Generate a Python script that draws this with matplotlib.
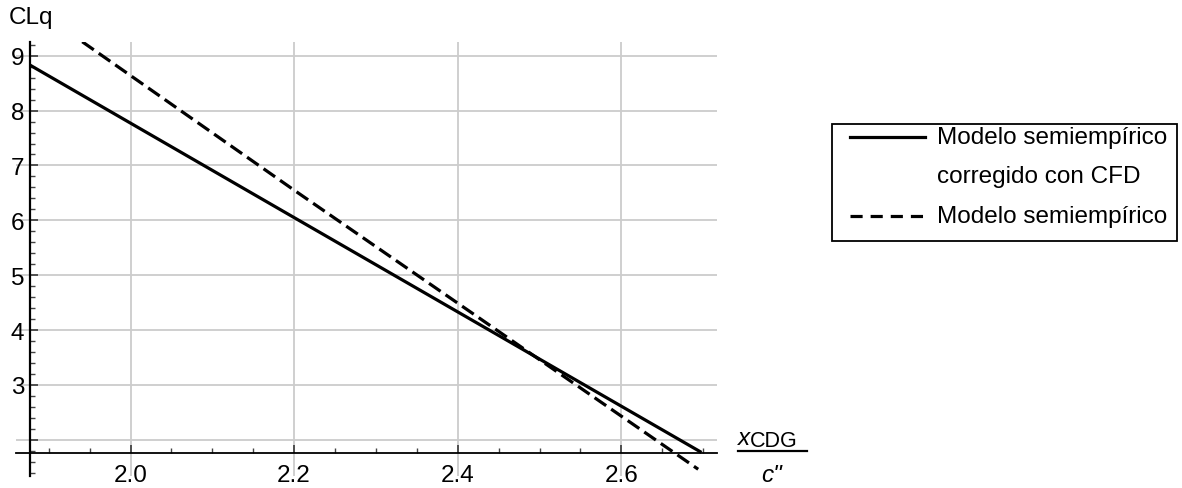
import matplotlib
matplotlib.use("Agg")
import matplotlib.pyplot as plt
from matplotlib.lines import Line2D
from matplotlib.ticker import MultipleLocator

plt.rcParams["font.family"] = ["Liberation Sans", "DejaVu Sans"]

# values
x_corr = [1.877, 2.2, 2.698]
y_corr = [8.83, 6.05, 1.77]
x_semi = [1.941, 2.2, 2.694]
y_semi = [9.255, 6.55, 1.463]

x_ticks = [2.0, 2.2, 2.4, 2.6]
y_ticks = [2, 3, 4, 5, 6, 7, 8, 9]
y_labels = ["", "3", "4", "5", "6", "7", "8", "9"]

W, H = 1182, 489
FS = 17.5
fig = plt.figure(figsize=(W / 100, H / 100), dpi=100)
ax = fig.add_axes([16 / W, 1 - 477 / H, (717 - 16) / W, (477 - 43) / H])
ax.set_xlim(1.86, 2.717)
ax.set_ylim(1.34, 9.25)

for s in ("top", "right"):
    ax.spines[s].set_visible(False)
ax.spines["left"].set_position(("data", 1.877))
ax.spines["bottom"].set_position(("data", 1.754))
ax.spines["left"].set_linewidth(1.6)
ax.spines["bottom"].set_linewidth(1.3)
for s in ("left", "bottom"):
    ax.spines[s].set_zorder(4)

ax.set_xticks(x_ticks)
ax.set_xticklabels([f"{v:.1f}" for v in x_ticks])
ax.set_yticks(y_ticks)
ax.set_yticklabels(y_labels)
ax.xaxis.set_minor_locator(MultipleLocator(0.05))
ax.yaxis.set_minor_locator(MultipleLocator(0.2))
ax.tick_params(which="both", direction="in", labelsize=FS, color="#444444")
ax.tick_params(which="major", length=6, width=1.3)
ax.tick_params(which="minor", length=3.5, width=1.0)
ax.tick_params(axis="x", pad=8)
ax.tick_params(axis="y", pad=4)
ax.grid(True, which="major", color="#cccccc", lw=1.3)
ax.set_axisbelow(True)

ax.plot(x_corr, y_corr, color="black", lw=2.3, solid_capstyle="butt", zorder=3)
ax.plot(x_semi, y_semi, color="black", lw=2.3, dashes=(4.4, 1.9), zorder=3)

fig.text(9 / W, 1 - 24 / H, "CLq", fontsize=FS, va="baseline")

# x-axis label as fraction
fig.text(738 / W, 1 - 445 / H, "x", fontsize=FS, style="italic", va="baseline")
fig.text(750 / W, 1 - 447 / H, "CDG", fontsize=15.5, va="baseline")
fig.add_artist(Line2D([738 / W, 807 / W], [1 - 452 / H, 1 - 452 / H],
                      color="black", lw=1.6, transform=fig.transFigure))
fig.text(772 / W, 1 - 482 / H, "c\"", fontsize=FS, style="italic",
         va="baseline", ha="center")

# legend drawn by hand to mimic the boxed layout
box = plt.Rectangle((832 / W, 1 - 242 / H), (1177 - 832) / W, (242 - 125) / H,
                    transform=fig.transFigure, fill=False, lw=1.3,
                    edgecolor="black")
fig.add_artist(box)
fig.add_artist(Line2D([850 / W, 925 / W], [1 - 138 / H] * 2, color="black",
                      lw=2.3, transform=fig.transFigure))
fig.add_artist(Line2D([850 / W, 925 / W], [1 - 217 / H] * 2, color="black",
                      lw=2.3, dashes=(3.8, 2.5), transform=fig.transFigure))
fig.text(937 / W, 1 - 138 / H, "Modelo semiempírico", fontsize=FS, va="center")
fig.text(937 / W, 1 - 177 / H, "corregido con CFD", fontsize=FS, va="center")
fig.text(937 / W, 1 - 217 / H, "Modelo semiempírico", fontsize=FS, va="center")

fig.savefig("out.png", dpi=100)
